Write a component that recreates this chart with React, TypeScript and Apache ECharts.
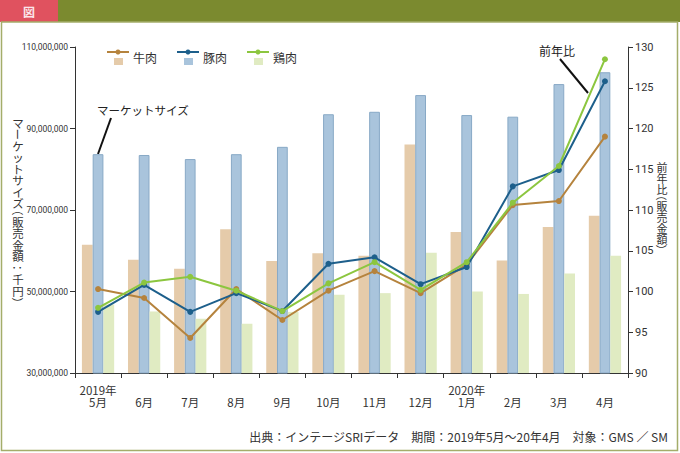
import React, { useEffect, useRef } from "react";
import * as echarts from "echarts";

const months = ["5月", "6月", "7月", "8月", "9月", "10月", "11月", "12月", "1月", "2月", "3月", "4月"];
const yearMarks = ["2019年", "", "", "", "", "", "", "", "2020年", "", "", ""];

// market size (千円)
const beefSize = [61.5e6, 57.8e6, 55.6e6, 65.3e6, 57.5e6, 59.4e6, 58.8e6, 86.1e6, 64.6e6, 57.6e6, 65.8e6, 68.6e6];
const porkSize = [83.7e6, 83.5e6, 82.5e6, 83.7e6, 85.5e6, 93.5e6, 94.1e6, 98.2e6, 93.3e6, 92.9e6, 100.9e6, 103.8e6];
const chickenSize = [46.8e6, 45.1e6, 43.3e6, 42.1e6, 45.0e6, 49.2e6, 49.6e6, 59.5e6, 50.0e6, 49.4e6, 54.4e6, 58.8e6];

// year-on-year (%)
const beefYoY = [100.3, 99.2, 94.3, 100.3, 96.5, 100.1, 102.5, 99.8, 103.3, 110.6, 111.1, 119.0];
const porkYoY = [97.5, 100.8, 97.5, 99.8, 97.6, 103.4, 104.2, 100.9, 103.0, 112.9, 114.9, 125.8];
const chickenYoY = [98.0, 101.1, 101.8, 100.1, 97.6, 101.0, 103.6, 100.2, 103.6, 110.9, 115.4, 128.5];

const names = ["牛肉", "豚肉", "鶏肉"];
const lineColors = ["#b5833d", "#1d5f8b", "#8cc63f"];
const barColors = ["#e5cbaa", "#a9c4dc", "#e0ebc2"];

const leftName = "マーケットサイズ（販売金額：千円）";
const rightName = "前年比（販売金額）";

const JP = "'Noto Sans CJK JP', sans-serif";
const NUM = "Roboto, sans-serif";

// stacked upright characters; bars/brackets/colon rotated as in vertical writing
function verticalText(str: string, cx: number, y0: number, size: number, step: number, parenStep: number) {
  const out: any[] = [];
  let y = y0;
  for (const ch of str) {
    const rot = "ー（）：".includes(ch);
    const isParen = "（）".includes(ch);
    const h = isParen ? parenStep : step;
    // opening paren glyph sits right in its box; after rotation that is bottom -> shift
    const shift = ch === "（" ? -size * 0.25 : ch === "）" ? size * 0.25 : 0;
    out.push({
      type: "text",
      x: cx,
      y: y + h / 2 + shift,
      rotation: rot ? -Math.PI / 2 : 0,
      style: {
        text: ch,
        font: `${size}px ${JP}`,
        lineHeight: isParen ? parenStep : step,
        fill: "#333",
        align: "center",
        verticalAlign: "middle",
      },
    });
    y += h;
  }
  return out;
}

export default function App() {
  const ref = useRef<HTMLDivElement>(null);
  useEffect(() => {
    const chart = echarts.init(ref.current!, null, { renderer: "svg" });
    const legendItems: any[] = [];
    names.forEach((n, i) => {
      const x0 = 107 + i * 70;
      legendItems.push(
        { type: "line", shape: { x1: x0, y1: 52, x2: x0 + 22, y2: 52 }, style: { stroke: lineColors[i], lineWidth: 2 } },
        { type: "circle", shape: { cx: x0 + 11, cy: 52, r: 2.5 }, style: { fill: lineColors[i] } },
        { type: "rect", shape: { x: x0 + 7, y: 58, width: 9, height: 7 }, style: { fill: barColors[i] } },
        { type: "text", x: x0 + 26, y: 57, style: { text: n, font: `12px ${JP}`, fill: "#333", verticalAlign: "middle" } }
      );
    });
    const bars = [beefSize, porkSize, chickenSize].map((d, i) => ({
      name: names[i],
      type: "bar",
      yAxisIndex: 0,
      data: d,
      barGap: "0%",
      barCategoryGap: "30%",
      itemStyle: {
        color: barColors[i],
        borderColor: i === 1 ? "#88a9c6" : barColors[i],
        borderWidth: i === 1 ? 1 : 0,
      },
    }));
    const lines = [beefYoY, porkYoY, chickenYoY].map((d, i) => ({
      name: names[i] + "前年比",
      type: "line",
      yAxisIndex: 1,
      data: d,
      symbol: "circle",
      symbolSize: 6,
      lineStyle: { color: lineColors[i], width: 2 },
      itemStyle: { color: lineColors[i] },
      z: 5 + i,
    }));
    chart.setOption({
      animation: false,
      backgroundColor: "#fff",
      grid: { left: 75, right: 52, top: 47, bottom: 80 },
      xAxis: {
        type: "category",
        data: months,
        axisLine: { lineStyle: { color: "#333", width: 1 } },
        axisTick: { show: true, length: 5, lineStyle: { color: "#333" } },
        axisLabel: {
          interval: 0,
          margin: 11,
          fontSize: 11.5,
          lineHeight: 12,
          color: "#333",
          fontFamily: JP,
          formatter: (v: string, idx: number) => `${yearMarks[idx]}\n${v}`,
        },
      },
      yAxis: [
        {
          type: "value",
          min: 30000000,
          max: 110000000,
          interval: 20000000,
          position: "left",
          splitLine: { show: false },
          axisLine: { show: true, lineStyle: { color: "#333" } },
          axisTick: { show: true, length: 5, lineStyle: { color: "#333" } },
          axisLabel: {
            margin: 7,
            fontSize: 8.5,
            color: "#333",
            fontFamily: NUM,
            formatter: (v: number) => v.toLocaleString("en-US"),
          },
        },
        {
          type: "value",
          min: 90,
          max: 130,
          interval: 5,
          position: "right",
          splitLine: { show: false },
          axisLine: { show: true, lineStyle: { color: "#333" } },
          axisTick: { show: true, length: 5, lineStyle: { color: "#333" } },
          axisLabel: { margin: 7, fontSize: 11, color: "#333", fontFamily: NUM },
        },
      ],
      series: [...bars, ...lines],
      graphic: [
        { type: "rect", shape: { x: 0, y: 0, width: 680, height: 22 }, style: { fill: "#7b8a2f" } },
        { type: "rect", shape: { x: 0, y: 0, width: 58, height: 22 }, style: { fill: "#e0525f" } },
        { type: "text", x: 29, y: 11, style: { text: "図", font: `bold 12px ${JP}`, fill: "#fbe6ea", align: "center", verticalAlign: "middle" } },
        { type: "rect", shape: { x: 1.5, y: 22, width: 676, height: 428.5 }, style: { fill: "none", stroke: "#a4ad6a", lineWidth: 1.5 } },
        ...legendItems,
        { type: "text", x: 97, y: 110, style: { text: "マーケットサイズ", font: `11.5px ${JP}`, fill: "#222", verticalAlign: "middle" } },
        { type: "line", shape: { x1: 111, y1: 118, x2: 98, y2: 154 }, style: { stroke: "#111", lineWidth: 2 } },
        { type: "text", x: 557, y: 50, style: { text: "前年比", font: `12px ${JP}`, fill: "#222", align: "center", verticalAlign: "middle" } },
        { type: "line", shape: { x1: 560, y1: 59, x2: 588, y2: 93 }, style: { stroke: "#111", lineWidth: 2 } },
        ...verticalText(leftName, 18, 117, 11.5, 11.5, 7),
        ...verticalText(rightName, 662, 162, 11, 10.8, 6.5),
        {
          type: "text", x: 668, y: 436,
          style: { text: "出典：インテージSRIデータ　期間：2019年5月〜20年4月　対象：GMS ／ SM", font: `12px ${JP}`, fill: "#333", align: "right", verticalAlign: "middle" },
        },
      ],
    });
    return () => chart.dispose();
  }, []);
  return <div ref={ref} style={{ position: "fixed", left: 0, top: 0, width: 680, height: 453 }} />;
}
